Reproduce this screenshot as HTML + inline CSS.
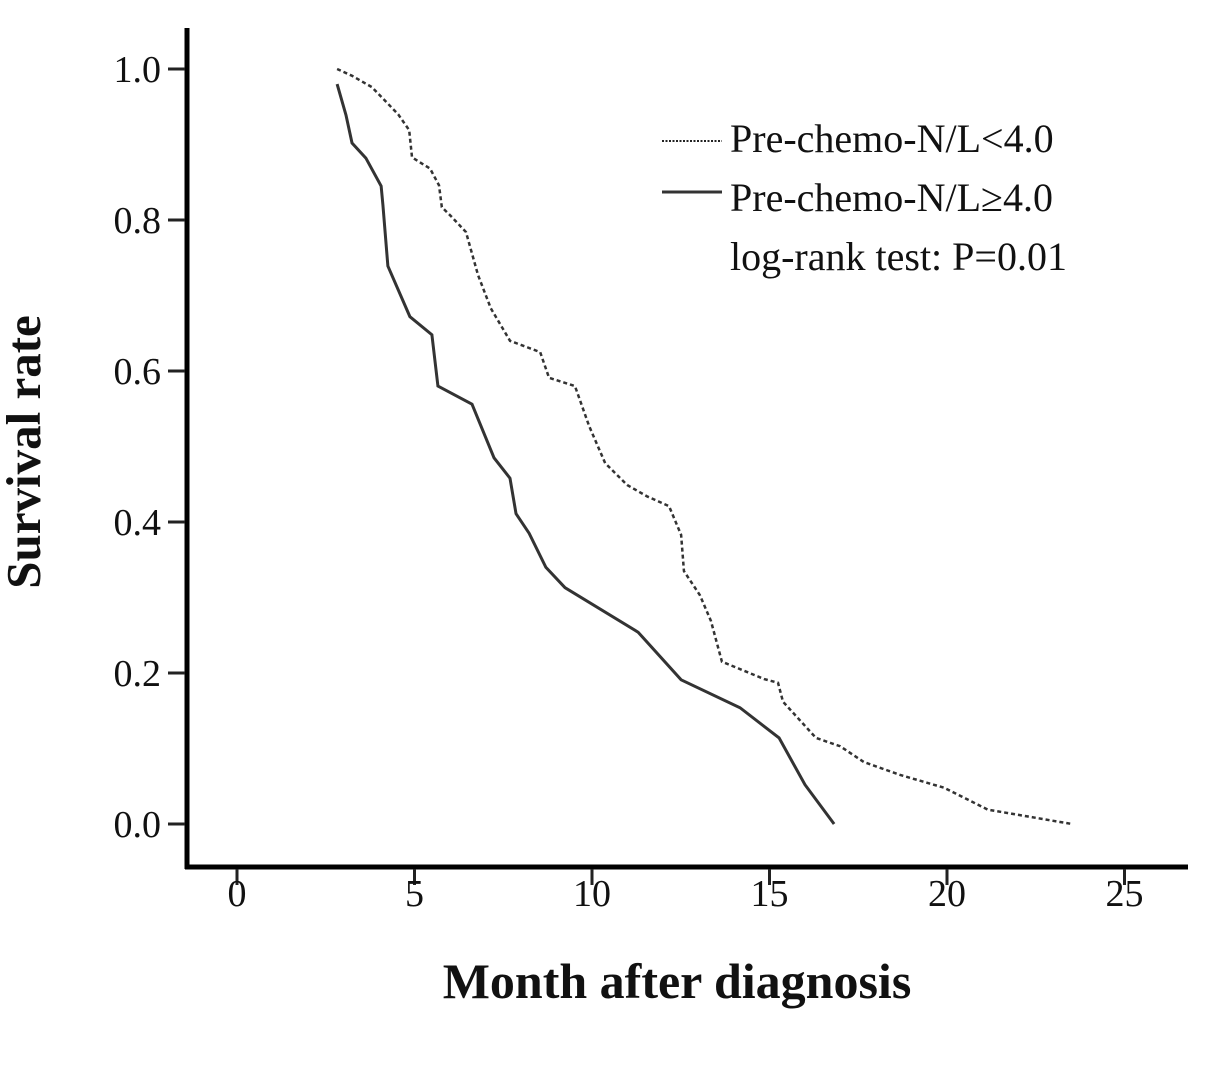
<!DOCTYPE html>
<html><head><meta charset="utf-8"><style>
body{margin:0;background:#fff}
svg text{font-family:"Liberation Serif",serif;fill:#111}
</style></head><body>
<svg width="1205" height="1063" viewBox="0 0 1205 1063">
<g id="plot"></g>
<text x="40" y="452" font-size="49" font-weight="bold" text-anchor="middle" transform="rotate(-90 40 452)">Survival rate</text>
<text x="677" y="998" font-size="50" font-weight="bold" text-anchor="middle">Month after diagnosis</text>
<line x1="662" y1="141" x2="722" y2="141" stroke="#222" stroke-width="2" stroke-dasharray="2,1.5"/>
<line x1="662" y1="192" x2="722" y2="192" stroke="#333" stroke-width="3"/>
<text x="730" y="152" font-size="40">Pre-chemo-N/L&lt;4.0</text>
<text x="730" y="211" font-size="40">Pre-chemo-N/L≥4.0</text>
<text x="730" y="270" font-size="40">log-rank test: P=0.01</text>
</svg>
<script>
const xTicks=[0,5,10,15,20,25];
const yTicks=["0.0","0.2","0.4","0.6","0.8","1.0"];
const lowMonths=[2.82,3.24,3.80,4.54,4.85,4.93,5.44,5.69,5.77,6.03,6.45,6.79,7.15,7.69,8.54,8.79,9.52,9.92,10.37,10.99,11.55,12.17,12.51,12.59,13.04,13.35,13.66,14.85,15.24,15.38,15.69,16.31,16.99,17.66,18.68,19.92,21.15,23.52];
const lowSurv=[1.0,0.991,0.976,0.94,0.919,0.883,0.868,0.846,0.817,0.805,0.784,0.727,0.683,0.64,0.625,0.591,0.58,0.527,0.478,0.449,0.434,0.421,0.383,0.335,0.303,0.269,0.215,0.192,0.187,0.162,0.146,0.114,0.103,0.082,0.065,0.048,0.019,0.0];
const highMonths=[2.82,3.07,3.24,3.63,4.06,4.11,4.25,4.87,5.49,5.66,6.62,7.24,7.69,7.86,8.23,8.70,9.24,11.30,12.51,14.17,15.27,16.00,16.82];
const highSurv=[0.98,0.939,0.902,0.882,0.845,0.82,0.739,0.672,0.648,0.58,0.556,0.485,0.458,0.411,0.385,0.34,0.313,0.254,0.191,0.154,0.114,0.052,0.0];
const X=m=>237+m*35.5, Y=v=>824-v*755;
const ns="http://www.w3.org/2000/svg", g=document.getElementById('plot');
function mk(t,a){const e=document.createElementNS(ns,t);for(const k in a)e.setAttribute(k,a[k]);g.appendChild(e);return e;}
let e=mk('line',{x1:187,y1:28,x2:187,y2:869,stroke:'#000','stroke-width':5});


e=mk('line',{x1:185,y1:867,x2:1188,y2:867,stroke:'#000','stroke-width':5});


xTicks.forEach(t=>{
 let l=mk('line',{x1:X(t),y1:869,x2:X(t),y2:885,stroke:'#222','stroke-width':3});
 
 
 let tx=mk('text',{x:X(t),y:906,'font-size':38,'text-anchor':'middle'});tx.textContent=t;
 
 
});
yTicks.forEach(t=>{
 const v=parseFloat(t);
 let l=mk('line',{x1:168,y1:Y(v),x2:185,y2:Y(v),stroke:'#222','stroke-width':3});
 
 
 let tx=mk('text',{x:161,y:Y(v)+13,'font-size':38,'text-anchor':'end'});tx.textContent=t;
 
 
});
function pts(a,b){return a.map((m,i)=>X(m)+','+Y(b[i])).join(' ');}
e=mk('polyline',{points:pts(lowMonths,lowSurv),fill:'none',stroke:'#333','stroke-width':2.5,'stroke-dasharray':'4,3'});


e=mk('polyline',{points:pts(highMonths,highSurv),fill:'none',stroke:'#333','stroke-width':3});


</script>
</body></html>
